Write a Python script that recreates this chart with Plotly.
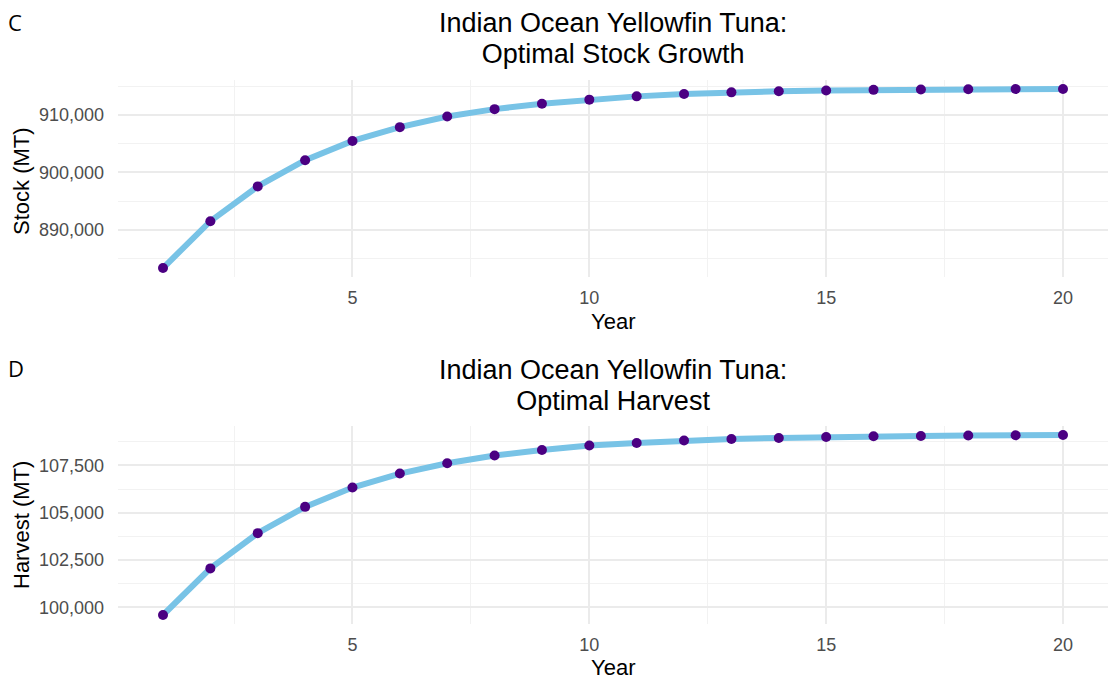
import plotly.graph_objects as go

years = list(range(1, 21))
stock = [883350, 891500, 897550, 902100, 905450, 907850, 909700, 910980, 911930, 912630,
         913200, 913600, 913900, 914100, 914230, 914330, 914400, 914440, 914470, 914490]
harvest = [99594, 102057, 103919, 105306, 106329, 107067, 107611, 108016, 108312, 108544,
           108681, 108808, 108892, 108945, 109000, 109034, 109050, 109080, 109090, 109103]

x_ticks = [5, 10, 15, 20]
x_minor = [2.5, 7.5, 12.5, 17.5]
stock_ticks = [890000, 900000, 910000]
stock_minor = [885000, 895000, 905000, 915000]
harvest_ticks = [100000, 102500, 105000, 107500]
harvest_minor = [101250, 103750, 106250, 108750]

title_line1 = "Indian Ocean Yellowfin Tuna:"
stock_title = "Optimal Stock Growth"
harvest_title = "Optimal Harvest"

OFF = 8  # default page body margin
W, H = 1120 - OFF, 692 - OFF
FONT = "Liberation Sans, Arial, sans-serif"
LINE_C = "#78C3E6"
PT_C = "#4B0082"
GRID = "#EBEBEB"
TICK_C = "#4D4D4D"

def py(p):
    return 1 - (p - OFF) / H

def px(p):
    return (p - OFF) / W

fig = go.Figure()
fig.add_trace(go.Scatter(x=years, y=stock, mode="lines", line=dict(color=LINE_C, width=6),
                         xaxis="x", yaxis="y", hoverinfo="skip", showlegend=False))
fig.add_trace(go.Scatter(x=years, y=stock, mode="markers", marker=dict(color=PT_C, size=10),
                         xaxis="x", yaxis="y", showlegend=False))
fig.add_trace(go.Scatter(x=years, y=harvest, mode="lines", line=dict(color=LINE_C, width=6),
                         xaxis="x2", yaxis="y2", hoverinfo="skip", showlegend=False))
fig.add_trace(go.Scatter(x=years, y=harvest, mode="markers", marker=dict(color=PT_C, size=10),
                         xaxis="x2", yaxis="y2", showlegend=False))

xdom = [px(118), px(1108)]
def xax(anchor):
    return dict(domain=xdom, anchor=anchor, range=[0.05, 20.95], tickvals=x_ticks,
                showgrid=True, gridcolor=GRID, gridwidth=1.6, zeroline=False, showline=False,
                tickfont=dict(family=FONT, size=18, color=TICK_C), ticklabelstandoff=8,
                minor=dict(tickvals=x_minor, showgrid=True, gridcolor="#F2F2F2", gridwidth=1))

def yax(anchor, dom, rng, ticks, minor):
    return dict(domain=dom, anchor=anchor, range=rng, tickvals=ticks,
                tickformat=",d", showgrid=True, gridcolor=GRID, gridwidth=1.6,
                zeroline=False, showline=False,
                tickfont=dict(family=FONT, size=18, color=TICK_C), ticklabelstandoff=13,
                minor=dict(tickvals=minor, showgrid=True, gridcolor="#F2F2F2", gridwidth=1))

fig.update_layout(
    width=W, height=H, margin=dict(l=0, r=0, t=0, b=0),
    paper_bgcolor="white", plot_bgcolor="white",
    xaxis=xax("y"),
    yaxis=yax("x", [py(277), py(80)], [881793, 916047], stock_ticks, stock_minor),
    xaxis2=xax("y2"),
    yaxis2=yax("x2", [py(624), py(426)], [99119, 109578], harvest_ticks, harvest_minor),
    font=dict(family=FONT),
)

ann = []
def text(x, y, s, size, color="black", angle=0, family=FONT, xanchor="center"):
    ann.append(dict(x=px(x), y=py(y), xref="paper", yref="paper", text=s, showarrow=False,
                    font=dict(family=family, size=size, color=color), textangle=angle,
                    xanchor=xanchor, yanchor="middle", borderpad=0))

def two_line(a, b):
    st = '<span style="font-size:27px">%s</span>'
    return (st % a) + "<br>" + (st % b)

text(7, 22, "C", 22, family="Open Sans, sans-serif", xanchor="left")
text(7, 368, "D", 22, family="Open Sans, sans-serif", xanchor="left")
text(613, 39, two_line(title_line1, stock_title), 23.5)
text(613, 385, two_line(title_line1, harvest_title), 23.5)
text(613, 322, "Year", 22)
text(613, 667, "Year", 22)
text(21, 181, "Stock (MT)", 22, angle=-90)
text(21, 525, "Harvest (MT)", 22, angle=-90)
fig.update_layout(annotations=ann)

fig.write_html("out.html")
